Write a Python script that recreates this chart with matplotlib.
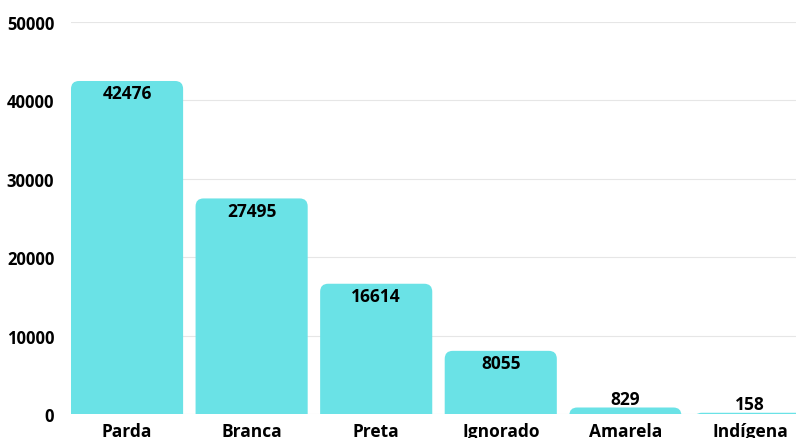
import matplotlib.pyplot as plt
from matplotlib.patches import FancyBboxPatch

plt.rcParams['font.family'] = ['Open Sans', 'DejaVu Sans']
plt.rcParams['font.weight'] = 'bold'

categorias = ['Parda', 'Branca', 'Preta', 'Ignorado', 'Amarela', 'Indígena']
valores = [42476, 27495, 16614, 8055, 829, 158]

cor = '#6ae2e6'
largura = 0.9

fig = plt.figure(figsize=(7.96, 4.39), dpi=100)
W, H = 796, 439
ax = fig.add_axes([71 / W, (H - 415) / H, (W - 71) / W, (415 - 23) / H])

ax.set_xlim(-0.45, 5.37)
ax.set_ylim(0, 50000)

# raio dos cantos em unidades de dados (px -> dados)
px_x = (5.37 + 0.45) / (W - 71)
px_y = 50000 / (415 - 23)
rx = 8 * px_x
ry = 8 * px_y

for i, v in enumerate(valores):
    base = -2.5 * ry
    caixa = FancyBboxPatch((i - largura / 2, base), largura, v - base,
                           boxstyle=f'round,pad=0,rounding_size={rx}',
                           mutation_aspect=ry / rx,
                           facecolor=cor, edgecolor='none', zorder=2,
                           clip_on=True)
    ax.add_patch(caixa)
    if v > 3000:
        ax.annotate(str(v), (i, v), xytext=(0, -2.5), textcoords='offset points',
                    ha='center', va='top', fontsize=12.5, fontweight='bold', zorder=3)
    else:
        ax.annotate(str(v), (i, v), xytext=(0, 0), textcoords='offset points',
                    ha='center', va='bottom', fontsize=12.5, fontweight='bold', zorder=3)

ax.set_xticks(range(len(categorias)))
ax.set_xticklabels(categorias, fontsize=12.5, fontweight='bold')
ax.set_yticks([0, 10000, 20000, 30000, 40000, 50000])
ax.set_yticklabels(['0', '10000', '20000', '30000', '40000', '50000'],
                   fontsize=12, fontweight='bold')
ax.tick_params(axis='both', length=0)
ax.tick_params(axis='x', pad=6)
ax.tick_params(axis='y', pad=12)

ax.yaxis.grid(True, color='#e6e6e6', linewidth=0.8, zorder=0)
ax.set_axisbelow(True)
for s in ax.spines.values():
    s.set_visible(False)

fig.savefig('out.png', dpi=100)
